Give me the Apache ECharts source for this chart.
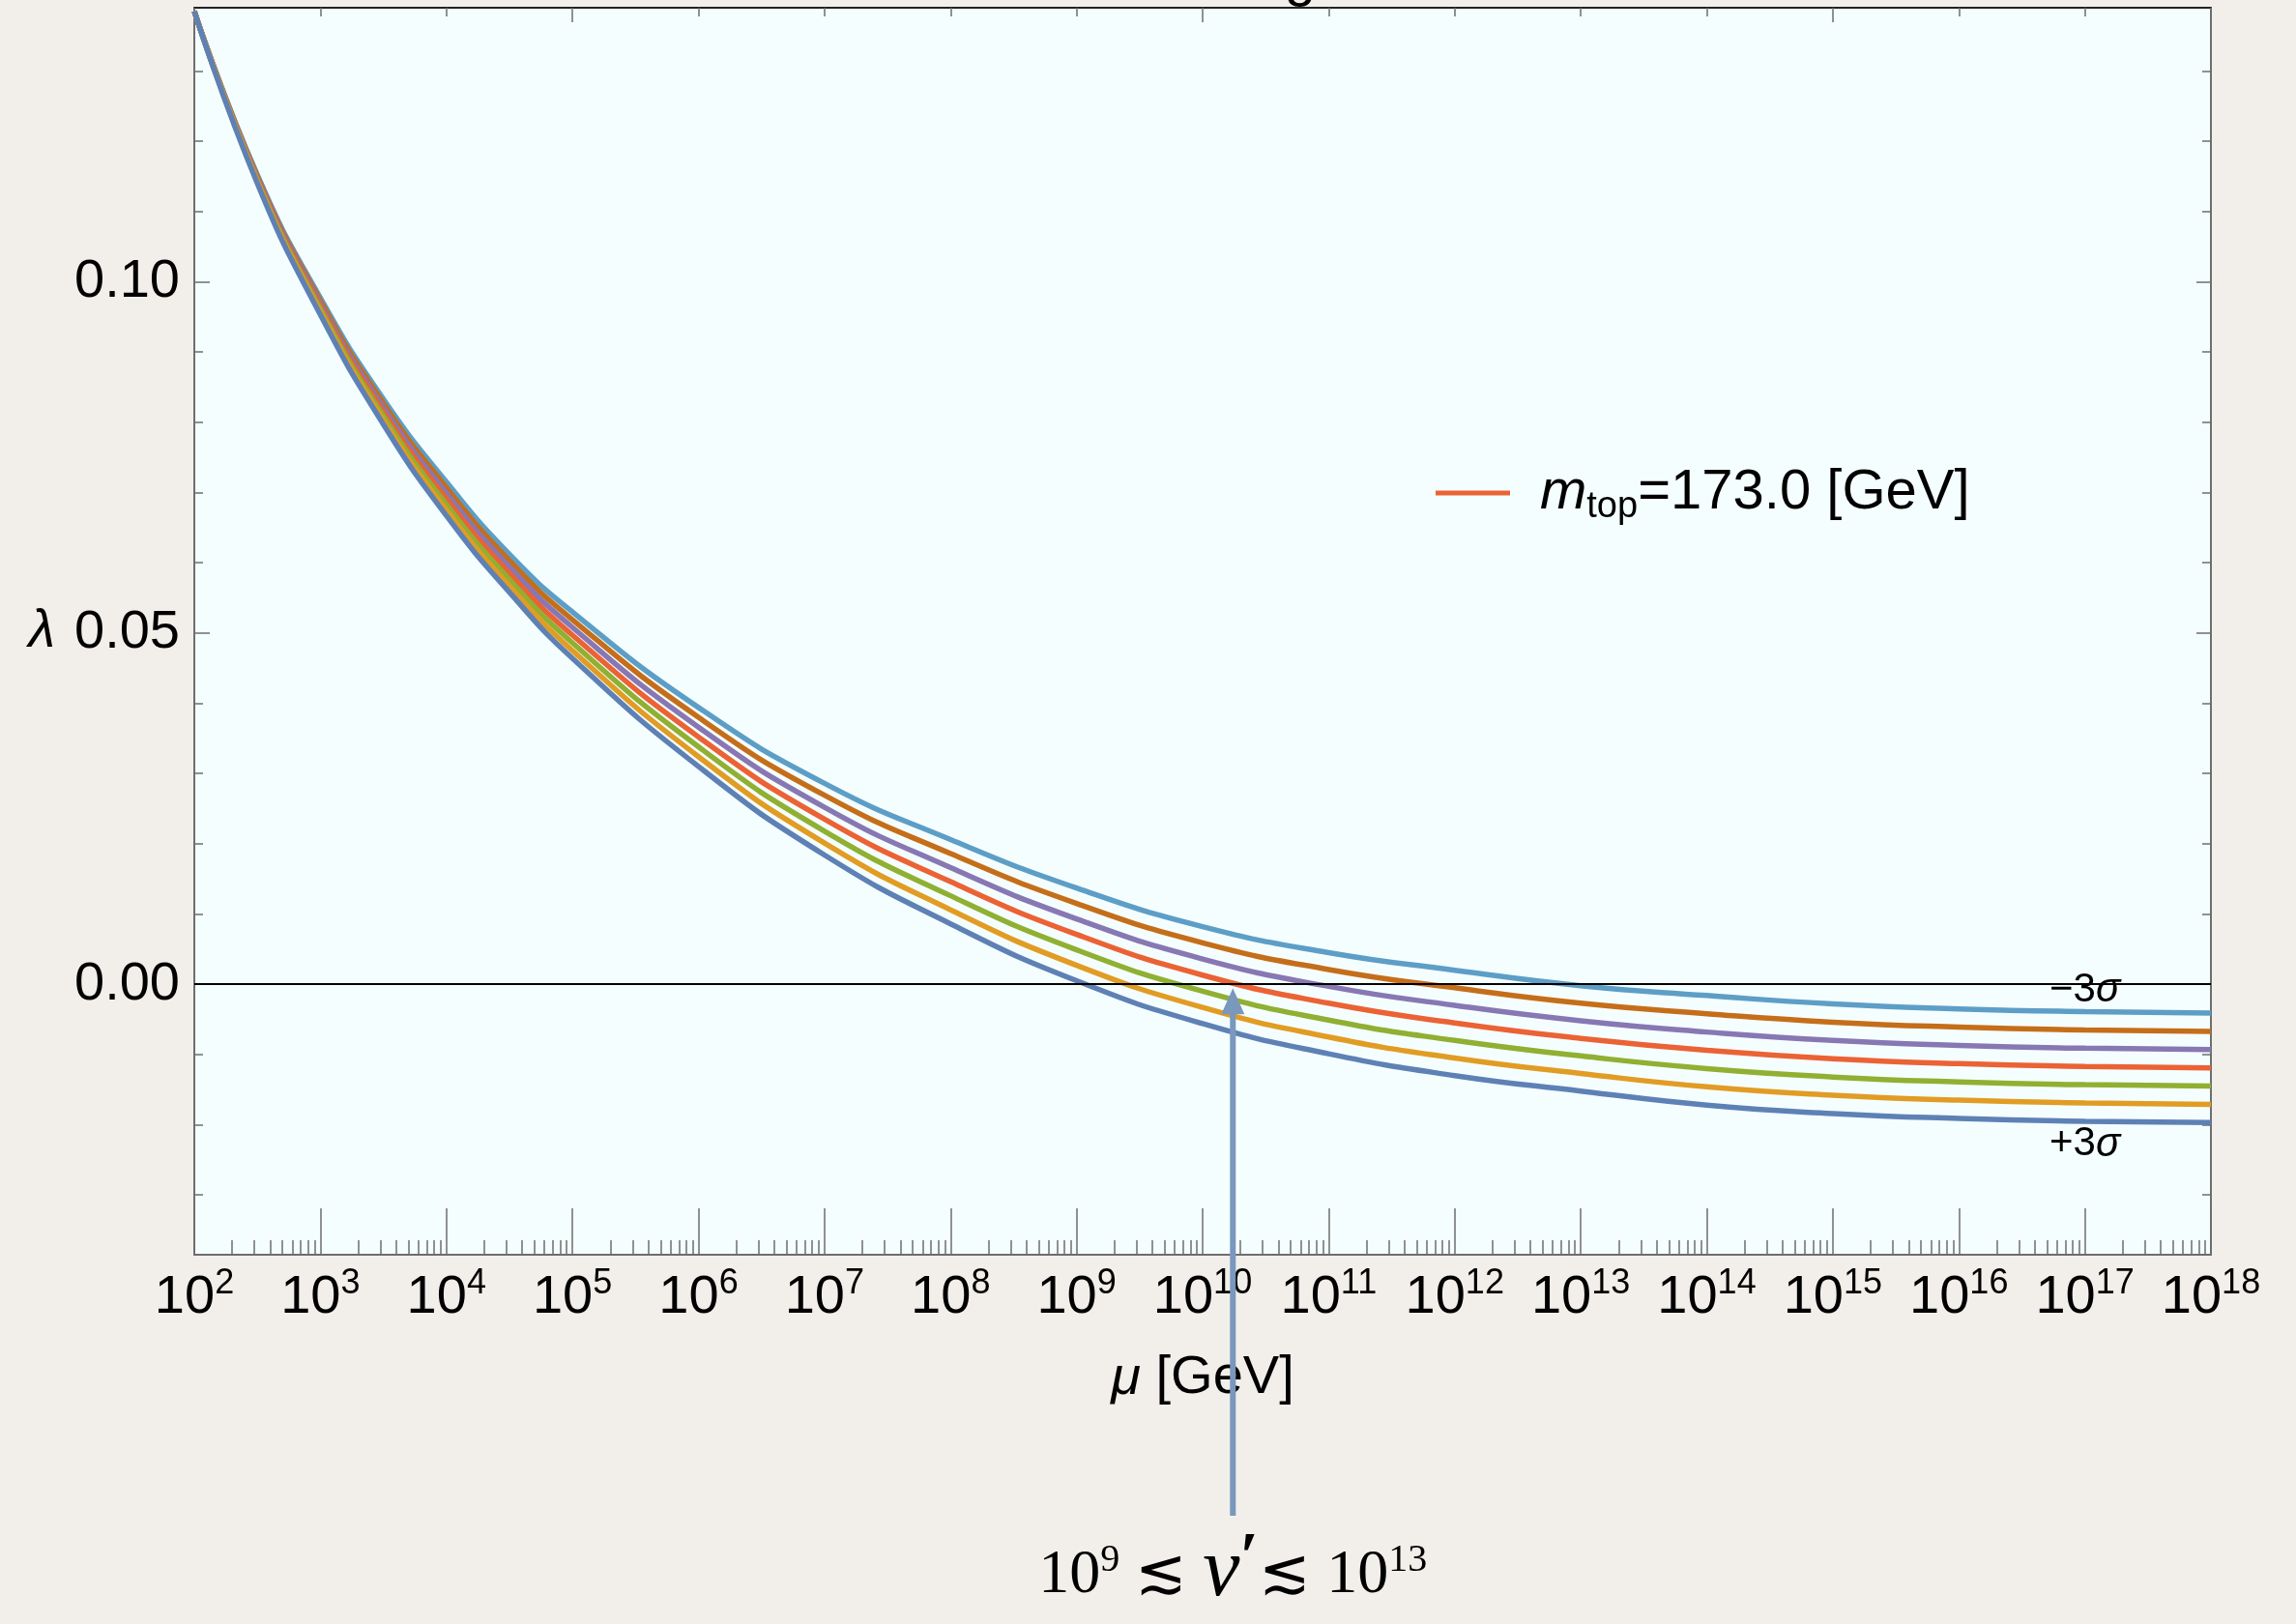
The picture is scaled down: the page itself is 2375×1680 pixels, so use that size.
<!DOCTYPE html>
<html>
<head>
<meta charset="utf-8">
<title>lambda running</title>
<script src="https://cdn.jsdelivr.net/npm/echarts@6/dist/echarts.min.js"></script>
<style>
  html, body { margin: 0; padding: 0; background: #f2efea; }
  #main { width: 2375px; height: 1680px; }
</style>
</head>
<body>
<div id="main"></div>
<script>
var logMu = [2, 2.5, 3, 3.5, 4, 4.5, 5, 6, 7, 8, 9, 10, 11, 12, 13, 14, 15, 16, 17, 18];

// lambda(mu) for m_top shifted by -3..+3 sigma (-3 sigma is the top curve)
var lamMinus3 = [0.1385, 0.1152, 0.0977, 0.0833, 0.0715, 0.0612, 0.0530, 0.0394, 0.0286, 0.0206, 0.0137, 0.0082, 0.0045, 0.0020, -0.0002, -0.0016, -0.0028, -0.0035, -0.0039, -0.0041];
var lamMinus2 = [0.1385, 0.1150, 0.0973, 0.0827, 0.0707, 0.0603, 0.0519, 0.0380, 0.0269, 0.0186, 0.0115, 0.0059, 0.0021, -0.0005, -0.0027, -0.0042, -0.0054, -0.0061, -0.0065, -0.0067];
var lamMinus1 = [0.1385, 0.1148, 0.0969, 0.0821, 0.0699, 0.0594, 0.0508, 0.0366, 0.0252, 0.0166, 0.0093, 0.0036, -0.0003, -0.0030, -0.0052, -0.0068, -0.0080, -0.0087, -0.0091, -0.0093];
var lamCentral = [0.1385, 0.1146, 0.0965, 0.0815, 0.0691, 0.0585, 0.0497, 0.0352, 0.0235, 0.0146, 0.0071, 0.0013, -0.0027, -0.0055, -0.0077, -0.0094, -0.0106, -0.0113, -0.0117, -0.0119];
var lamPlus1 = [0.1385, 0.1144, 0.0961, 0.0809, 0.0683, 0.0576, 0.0486, 0.0338, 0.0218, 0.0126, 0.0049, -0.0010, -0.0051, -0.0080, -0.0102, -0.0120, -0.0132, -0.0139, -0.0143, -0.0145];
var lamPlus2 = [0.1385, 0.1142, 0.0957, 0.0803, 0.0675, 0.0567, 0.0475, 0.0324, 0.0201, 0.0106, 0.0027, -0.0033, -0.0075, -0.0105, -0.0127, -0.0146, -0.0158, -0.0165, -0.0169, -0.0171];
var lamPlus3 = [0.1385, 0.1140, 0.0953, 0.0797, 0.0667, 0.0558, 0.0464, 0.0310, 0.0184, 0.0086, 0.0005, -0.0056, -0.0099, -0.0130, -0.0152, -0.0172, -0.0184, -0.0191, -0.0195, -0.0197];

// axes
var decades = [2, 3, 4, 5, 6, 7, 8, 9, 10, 11, 12, 13, 14, 15, 16, 17, 18];
var topLongDecades = [5, 10, 15];
var yLabels = [0, 0.05, 0.10];
var yMinor = [-0.03, -0.02, -0.01, 0.01, 0.02, 0.03, 0.04, 0.06, 0.07, 0.08, 0.09, 0.11, 0.12, 0.13];
var muMin = 1e2, muMax = 1e18, lamMin = -0.0385, lamMax = 0.139;

// annotation
var arrowLogMu = 10.24;
var sigmaLabelLogMu = 17;
var sigmaLabelLam = { minus: -0.0009, plus: -0.0228 };

var font = 'Liberation Sans, Arial, Helvetica, sans-serif';
var axisGray = '#6e6e6e';

// keep the 10^18 tick a hair inside the extent so it is not dropped
function decadeVal(n) { return Math.min(Math.pow(10, n), muMax * 0.999999); }
var decadeVals = decades.map(decadeVal);
var minorVals = [];
for (var n = 2; n < 18; n++) {
    for (var k = 2; k <= 9; k++) minorVals.push(k * Math.pow(10, n));
}

function pts(vals) {
    return logMu.map(function (e, i) { return [Math.pow(10, e), vals[i]]; });
}

var curves = [
    { name: '-3σ', data: lamMinus3, color: '#5d9ec7' },
    { name: '-2σ', data: lamMinus2, color: '#c56e1a' },
    { name: '-1σ', data: lamMinus1, color: '#8778b3' },
    { name: 'mtop', data: lamCentral, color: '#eb6235' },
    { name: '+1σ', data: lamPlus1, color: '#8fb032' },
    { name: '+2σ', data: lamPlus2, color: '#e19c24' },
    { name: '+3σ', data: lamPlus3, color: '#5e81b5' }
];

function xAx(pos, tickVals, len, showLine, labels) {
    return {
        type: 'log', logBase: 10, min: muMin, max: muMax, position: pos,
        axisLine: { show: showLine, onZero: false, lineStyle: { color: pos === 'top' ? '#222' : axisGray, width: 2 } },
        axisTick: { show: true, inside: true, length: len, customValues: tickVals, lineStyle: { color: axisGray, width: 1.5 } },
        axisLabel: labels || { show: false },
        splitLine: { show: false }, minorTick: { show: false }
    };
}

function yAx(pos, tickVals, len, showLine, labels) {
    return {
        type: 'value', min: lamMin, max: lamMax, position: pos,
        axisLine: { show: showLine, onZero: false, lineStyle: { color: axisGray, width: 2 } },
        axisTick: { show: true, inside: true, length: len, customValues: tickVals, lineStyle: { color: axisGray, width: 1.5 } },
        axisLabel: labels || { show: false },
        splitLine: { show: false }
    };
}

var xMain = xAx('bottom', decadeVals, 48, true, {
    show: true, margin: 14, customValues: decadeVals,
    formatter: function (v) {
        return '{b|10}{s|' + Math.round(Math.log10(v)) + '}';
    },
    rich: {
        b: { fontFamily: font, fontSize: 56, lineHeight: 62, color: '#000' },
        s: { fontFamily: font, fontSize: 36, lineHeight: 36, color: '#000', padding: [0, 0, 30, 0] }
    }
});
xMain.name = '{i|μ} [GeV]';
xMain.nameLocation = 'middle';
xMain.nameGap = 100;
xMain.nameTextStyle = {
    fontFamily: font, fontSize: 56, color: '#000',
    rich: { i: { fontFamily: font, fontSize: 56, fontStyle: 'italic', color: '#000' } }
};

var yMain = yAx('left', yLabels, 16, true, {
    show: true, margin: 15, customValues: yLabels,
    fontFamily: font, fontSize: 56, color: '#000',
    formatter: function (v) { return v.toFixed(2); }
});
yMain.name = 'λ';
yMain.nameLocation = 'middle';
yMain.nameRotate = 0;
yMain.nameGap = 144;
yMain.nameTextStyle = { fontFamily: font, fontSize: 56, fontStyle: 'italic', color: '#000' };

var option = {
    backgroundColor: 'transparent',
    animation: false,
    textStyle: { fontFamily: font },
    grid: { left: 201, right: 88, top: 8, bottom: 382, show: true, backgroundColor: '#f5fefe', borderWidth: 0 },
    legend: {
        data: ['mtop'], left: 1485, top: 476, icon: 'rect', itemWidth: 77, itemHeight: 5,
        selectedMode: false, padding: 0,
        formatter: function () { return '{i|m}{s|top}{t|=173.0 [GeV]}'; },
        textStyle: {
            rich: {
                i: { fontFamily: font, fontSize: 58, fontStyle: 'italic', lineHeight: 70, color: '#000', padding: [0, 0, 0, 26] },
                s: { fontFamily: font, fontSize: 38, lineHeight: 40, color: '#000', padding: [30, 0, 0, 0] },
                t: { fontFamily: font, fontSize: 58, lineHeight: 70, color: '#000' }
            }
        }
    },
    xAxis: [
        xMain,
        xAx('bottom', minorVals, 15, false),
        xAx('top', decadeVals, 9, true),
        xAx('top', topLongDecades.map(decadeVal), 15, false)
    ],
    yAxis: [
        yMain,
        yAx('left', yMinor, 9, false),
        yAx('right', yMinor, 9, true),
        yAx('right', yLabels, 15, false)
    ],
    series: curves.map(function (c, i) {
        var s = {
            name: c.name, type: 'line', xAxisIndex: 0, yAxisIndex: 0,
            data: pts(c.data), showSymbol: false, smooth: 0.5,
            color: c.color, lineStyle: { color: c.color, width: 5.5 }
        };
        if (i === curves.length - 1) {
            s.markLine = {
                silent: true, symbol: 'none', label: { show: false },
                lineStyle: { color: '#000', width: 2, type: 'solid' },
                data: [{ yAxis: 0 }]
            };
        }
        return s;
    })
};

var chart = echarts.init(document.getElementById('main'));
chart.setOption(option);

// annotations placed through the chart's own coordinate system
var tip = chart.convertToPixel({ xAxisIndex: 0, yAxisIndex: 0 }, [Math.pow(10, arrowLogMu), 0]);
var sMinus = chart.convertToPixel({ xAxisIndex: 0, yAxisIndex: 0 }, [Math.pow(10, sigmaLabelLogMu), sigmaLabelLam.minus]);
var sPlus = chart.convertToPixel({ xAxisIndex: 0, yAxisIndex: 0 }, [Math.pow(10, sigmaLabelLogMu), sigmaLabelLam.plus]);
var arrowColor = '#7a97bd';
var tipY = tip[1] + 4;
var sigmaRich = {
    a: { fontFamily: font, fontSize: 42, fill: '#000' },
    g: { fontFamily: font, fontSize: 42, fontStyle: 'italic', fill: '#000' }
};
var serif = 'Liberation Serif, DejaVu Serif, serif';

chart.setOption({
    graphic: [
        { type: 'line', z: 50, shape: { x1: tip[0], y1: 1568, x2: tip[0], y2: tipY + 22 }, style: { stroke: arrowColor, lineWidth: 6 } },
        { type: 'polygon', z: 50, shape: { points: [[tip[0], tipY], [tip[0] - 12, tipY + 27], [tip[0] + 12, tipY + 27]] }, style: { fill: arrowColor } },
        { type: 'text', z: 50, x: sMinus[0], y: sMinus[1], style: { text: '{a|−3}{g|σ}', rich: sigmaRich, align: 'center', verticalAlign: 'middle' } },
        { type: 'text', z: 50, x: sPlus[0], y: sPlus[1], style: { text: '{a|+3}{g|σ}', rich: sigmaRich, align: 'center', verticalAlign: 'middle' } },
        {
            type: 'text', z: 50, x: tip[0], y: 1630,
            style: {
                text: '{n|10}{p|9}{n| ≲ }{v|v}{q|′}{n|≲ 10}{p|13}',
                align: 'center', verticalAlign: 'middle',
                rich: {
                    n: { fontFamily: serif, fontSize: 64, lineHeight: 80, fill: '#000' },
                    p: { fontFamily: serif, fontSize: 40, lineHeight: 48, fill: '#000', padding: [0, 0, 32, 0] },
                    v: { fontFamily: serif, fontSize: 86, fontStyle: 'italic', lineHeight: 80, fill: '#000', padding: [0, 0, 6, 0] },
                    q: { fontFamily: serif, fontSize: 70, fontWeight: 'bold', lineHeight: 70, fill: '#000', padding: [0, 0, 30, 0] }
                }
            }
        },
        { type: 'text', z: 50, x: 1345, y: 8, style: { text: 'g', fontFamily: font, fontSize: 58, fill: '#000', align: 'center', verticalAlign: 'bottom' } }
    ]
});
</script>
</body>
</html>
